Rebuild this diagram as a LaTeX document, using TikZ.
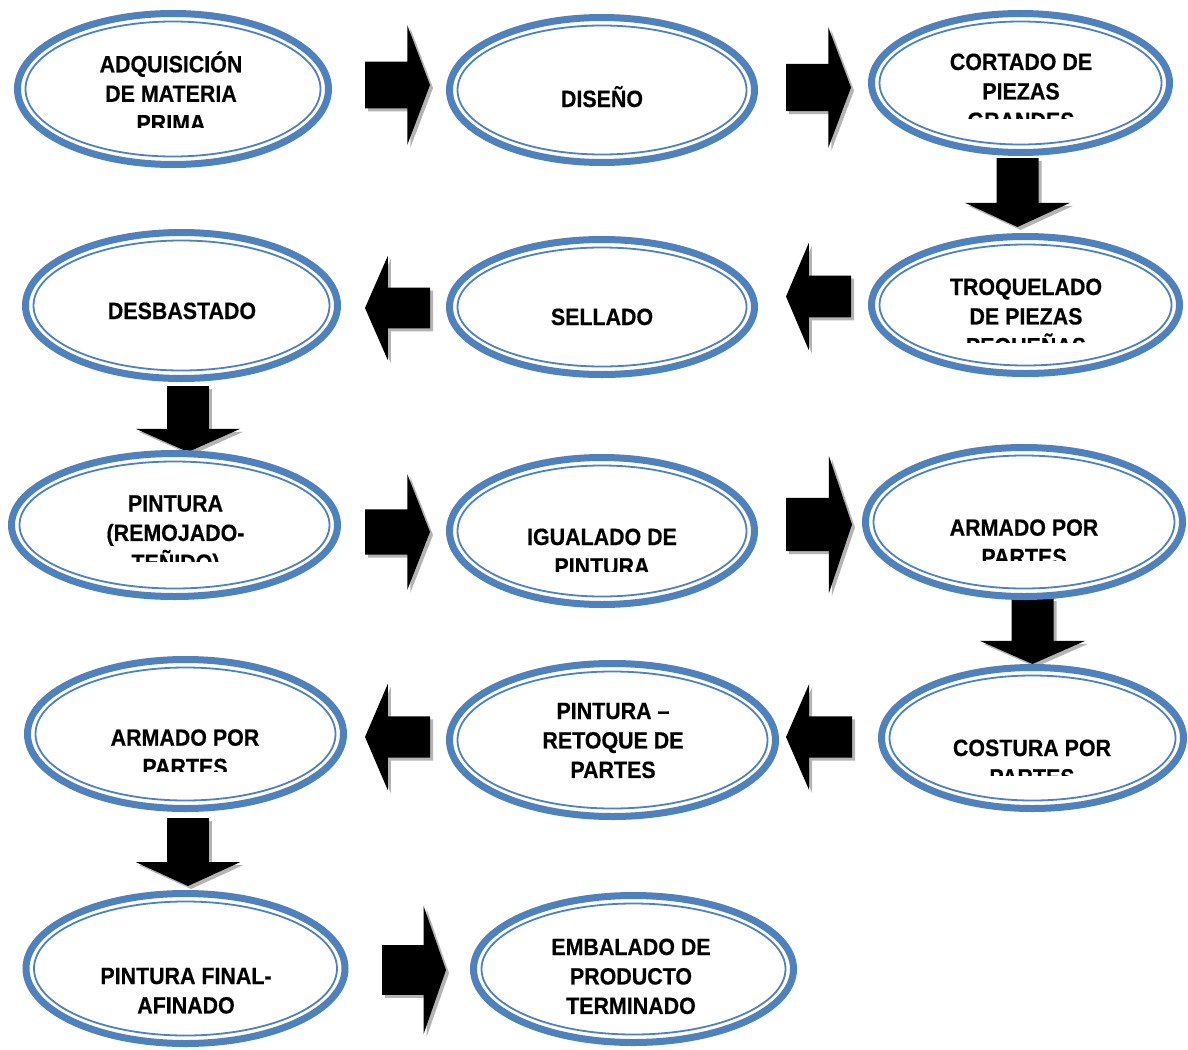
\documentclass[tikz,border=0pt]{standalone}
\usepackage{fontspec}
\setmainfont{Liberation Sans}
\newfontfamily\stagefam[FakeBold=0.5]{Liberation Sans Bold}
\usetikzlibrary{shapes.geometric}

\definecolor{ringblue}{HTML}{4F81BD}
\definecolor{arrowshade}{HTML}{B4B4B4}

\tikzset{
  outerring/.style={ellipse, draw=ringblue, line width=7pt, fill=white, inner sep=0pt},
  innerring/.style={draw=ringblue, line width=1.8pt},
  stagefont/.style={anchor=base, inner sep=0pt, yscale=1.1,
    font=\stagefam\fontsize{21.4}{26.8}\selectfont},
}

% a process stage: name, centre x, centre y, half width, half height
\newcommand\stage[5]{%
  \node[outerring, minimum width={2*#4-7}, minimum height={2*#5-7}] (#1) at (#2,#3) {};
  \draw[innerring] (#1.center) ellipse [x radius=#4-11.5, y radius=#5-11.5];
}
% stage caption: name, centre x, first baseline, lower clip edge, lines
\newcommand\stagetext[5]{%
  \begin{scope}
    \clip (#2-200,0) rectangle (#2+200,#4);
    \node[stagefont] (#1) at (#2,#3) {\begin{tabular}[t]{@{}c@{}}#5\end{tabular}};
  \end{scope}
}
% block arrows with a soft drop shadow: x0 y0 x1 y1 of the black shape
\newcommand\blockright[4]{%
  \pgfmathsetmacro\am{(#2+#4)/2}\pgfmathsetmacro\ah{0.195*(#4-#2)}%
  \pgfmathsetmacro\ax{#3-0.35*(#3-#1)}%
  \foreach \o/\c in {3/arrowshade,0/black}{%
    \fill[\c, shift={(\o,\o)}] (#1,\am-\ah) -- (\ax,\am-\ah) -- (\ax,#2) -- (#3,\am)
      -- (\ax,#4) -- (\ax,\am+\ah) -- (#1,\am+\ah) -- cycle;}%
}
\newcommand\blockleft[4]{%
  \pgfmathsetmacro\am{(#2+#4)/2}\pgfmathsetmacro\ah{0.195*(#4-#2)}%
  \pgfmathsetmacro\ax{#1+0.35*(#3-#1)}%
  \foreach \o/\c in {3/arrowshade,0/black}{%
    \fill[\c, shift={(\o,\o)}] (#3,\am-\ah) -- (\ax,\am-\ah) -- (\ax,#2) -- (#1,\am)
      -- (\ax,#4) -- (\ax,\am+\ah) -- (#3,\am+\ah) -- cycle;}%
}
\newcommand\blockdown[4]{%
  \pgfmathsetmacro\am{(#1+#3)/2}\pgfmathsetmacro\ah{0.2*(#3-#1)}%
  \pgfmathsetmacro\ay{#4-0.35*(#4-#2)}%
  \foreach \o/\c in {3/arrowshade,0/black}{%
    \fill[\c, shift={(\o,\o)}] (\am-\ah,#2) -- (\am-\ah,\ay) -- (#1,\ay) -- (\am,#4)
      -- (#3,\ay) -- (\am+\ah,\ay) -- (\am+\ah,#2) -- cycle;}%
}

\begin{document}
\begin{tikzpicture}[x=1pt, y=-1pt]
\useasboundingbox (0,0) rectangle (1188,1049);
\fill[white] (0,0) rectangle (1188,1049);

% flow arrows
\blockright{365}{25}{430}{145}
\blockright{786}{27}{851}{148}
\blockdown{965}{158}{1070}{227}
\blockleft{786}{243}{851}{350}
\blockleft{365}{256}{430}{360}
\blockdown{136}{386}{240}{452}
\blockright{365}{474}{430}{590}
\blockright{786}{456}{852}{593}
\blockdown{980}{598}{1085}{664}
\blockleft{786}{684}{852}{790}
\blockleft{365}{684}{430}{790}
\blockdown{136}{818}{240}{886}
\blockright{382}{906}{446}{1034}

% stages
\stage{e1}{173}{89}{159}{79}
\stage{e2}{602}{90}{156}{76}
\stage{e3}{1020.5}{83}{152.5}{73}
\stage{e4}{181.5}{305.5}{159.5}{76.5}
\stage{e5}{602}{307}{156}{71}
\stage{e6}{1025.5}{305}{157.5}{72}
\stage{e7}{174.5}{525}{166.5}{75}
\stage{e8}{602}{531}{156}{77}
\stage{e9}{1024}{522}{162}{78}
\stage{e10}{185.5}{734}{161.5}{78}
\stage{e11}{612.5}{740}{166.5}{80}
\stage{e12}{1032.5}{738}{154.5}{74}
\stage{e13}{185.5}{968.5}{163}{78.5}
\stage{e14}{633.5}{969}{163.5}{77}

% captions
\stagetext{t1}{171}{72.3}{127}{ADQUISICIÓN\\DE MATERIA\\PRIMA}
\stagetext{t2}{602}{107}{1049}{DISEÑO}
\stagetext{t3}{1021}{70}{118}{CORTADO DE\\PIEZAS\\GRANDES}
\stagetext{t4}{182}{319}{1049}{DESBASTADO}
\stagetext{t5}{602}{325}{1049}{SELLADO}
\stagetext{t6}{1026}{295}{342}{TROQUELADO\\DE PIEZAS\\PEQUEÑAS}
\stagetext{t7}{175.5}{511.5}{561}{PINTURA\\(REMOJADO-\\TEÑIDO)}
\stagetext{t8}{602}{545}{571}{IGUALADO DE\\PINTURA}
\stagetext{t9}{1024}{535.7}{560.5}{ARMADO POR\\PARTES}
\stagetext{t10}{185}{745.7}{771.5}{ARMADO POR\\PARTES}
\stagetext{t11}{613}{719}{1049}{PINTURA –\\RETOQUE DE\\PARTES}
\stagetext{t12}{1032}{756}{775}{COSTURA POR\\PARTES}
\stagetext{t13}{186}{984}{1049}{PINTURA FINAL-\\AFINADO}
\stagetext{t14}{631}{955}{1049}{EMBALADO DE\\PRODUCTO\\TERMINADO}
\end{tikzpicture}
\end{document}
